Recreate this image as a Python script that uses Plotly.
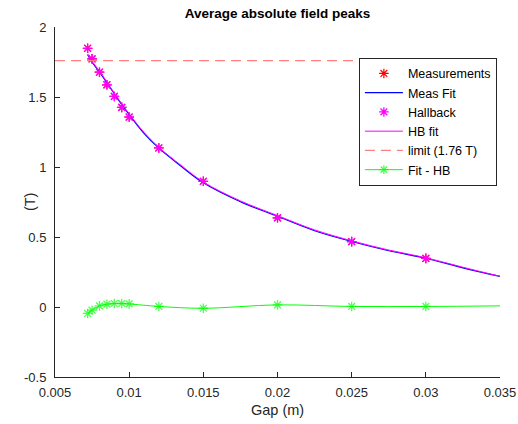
import plotly.graph_objects as go

# ---------------- data ----------------
gap = [0.0072, 0.0075, 0.008, 0.0085, 0.009, 0.0095, 0.01, 0.012, 0.015, 0.02, 0.025, 0.03]
hallback = [1.848, 1.772, 1.677, 1.587, 1.504, 1.426, 1.357, 1.136, 0.898, 0.637, 0.467, 0.347]
measurements = [1.848, 1.772, 1.677, 1.587, 1.504, 1.426, 1.357, 1.136, 0.898, 0.637, 0.467, 0.347]

fit_gap = [0.0072, 0.0075, 0.008, 0.0085, 0.009, 0.0095, 0.01, 0.011, 0.012, 0.0135,
           0.015, 0.0175, 0.02, 0.0225, 0.025, 0.0275, 0.03, 0.0325, 0.035]
meas_fit = [1.802, 1.748, 1.680, 1.601, 1.523, 1.446, 1.374, 1.241, 1.135, 1.006,
            0.887, 0.752, 0.648, 0.545, 0.468, 0.402, 0.348, 0.280, 0.218]
hb_fit = [1.808, 1.754, 1.686, 1.606, 1.528, 1.451, 1.380, 1.247, 1.141, 1.012,
          0.893, 0.758, 0.653, 0.551, 0.473, 0.407, 0.352, 0.284, 0.219]

diff_gap = [0.0072, 0.0075, 0.008, 0.0085, 0.009, 0.0095, 0.01, 0.012, 0.015, 0.02, 0.025, 0.03, 0.035]
fit_minus_hb = [-0.046, -0.023, 0.008, 0.020, 0.025, 0.025, 0.022, 0.004, -0.009, 0.015, 0.004, 0.004, 0.008]

limit_gap = [0.005, 0.035]
limit_value = 1.76

x_ticks = [0.005, 0.01, 0.015, 0.02, 0.025, 0.03, 0.035]
x_labels = ["0.005", "0.01", "0.015", "0.02", "0.025", "0.03", "0.035"]
y_ticks = [-0.5, 0, 0.5, 1, 1.5, 2]
y_labels = ["-0.5", "0", "0.5", "1", "1.5", "2"]

# ---------------- figure ----------------
FONT = "Liberation Sans, Arial, sans-serif"
AX = "#262626"

fig = go.Figure()

fig.add_trace(go.Scatter(
    x=gap, y=measurements, mode="markers", name="Measurements",
    marker=dict(symbol="asterisk-open", size=8, color="#FF0000",
                line=dict(color="#FF0000", width=1.2))))

fig.add_trace(go.Scatter(
    x=fit_gap, y=meas_fit, mode="lines", name="Meas Fit",
    line=dict(color="#0000FF", width=1.2, shape="spline")))

fig.add_trace(go.Scatter(
    x=gap, y=hallback, mode="markers", name="Hallback",
    marker=dict(symbol="asterisk-open", size=8, color="#FF00FF",
                line=dict(color="#FF00FF", width=1.3))))

fig.add_trace(go.Scatter(
    x=fit_gap, y=hb_fit, mode="lines", name="HB fit",
    line=dict(color="#FF00FF", width=1, shape="spline")))

fig.add_trace(go.Scatter(
    x=limit_gap, y=[limit_value] * len(limit_gap), mode="lines", name="limit (1.76 T)",
    line=dict(color="#FF8080", width=1.2, dash="10px,6px")))

marker_sizes = [8] * len(gap) + [0] * (len(diff_gap) - len(gap))
fig.add_trace(go.Scatter(
    x=diff_gap, y=fit_minus_hb, mode="lines+markers", name="Fit - HB",
    line=dict(color="#00FF00", width=1, shape="spline"),
    marker=dict(symbol="asterisk-open", size=marker_sizes, color="#00FF00",
                line=dict(color="#00FF00", width=1.3))))

fig.update_layout(
    width=518, height=424,
    margin=dict(l=55, r=18, t=27, b=47),
    paper_bgcolor="white", plot_bgcolor="white",
    font=dict(family=FONT, size=13, color=AX),
    title=dict(text="<b>Average absolute field peaks</b>", x=0.5, xref="paper",
               y=1 - 13 / 424, yref="container", yanchor="middle",
               font=dict(family=FONT, size=13.5, color="black")),
    showlegend=True,
    legend=dict(x=0.993, xanchor="right", y=0.912, yanchor="top",
                bgcolor="white", bordercolor=AX, borderwidth=1,
                font=dict(family=FONT, size=12.5, color="black"),
                tracegroupgap=0, itemwidth=38),
    xaxis=dict(range=[0.005, 0.035], tickvals=x_ticks, ticktext=x_labels,
               showline=True, linecolor=AX, linewidth=1, ticks="inside",
               ticklen=5, tickcolor=AX, showgrid=False, zeroline=False,
               mirror=False, ticklabelstandoff=3, automargin=False,
               tickfont=dict(family=FONT, size=13, color=AX)),
    yaxis=dict(range=[-0.5, 2], tickvals=y_ticks, ticktext=y_labels,
               showline=True, linecolor=AX, linewidth=1, ticks="inside",
               ticklen=5, tickcolor=AX, showgrid=False, zeroline=False,
               mirror=False, ticklabelstandoff=5, automargin=False,
               tickfont=dict(family=FONT, size=13, color=AX)),
    annotations=[
        dict(text="Gap (m)", xref="paper", yref="paper", x=0.5, y=-0.094,
             xanchor="center", yanchor="middle", showarrow=False,
             font=dict(family=FONT, size=14.5, color=AX)),
        dict(text="(T)", xref="paper", yref="paper", x=-0.056, y=0.5,
             xanchor="center", yanchor="middle", textangle=-90, showarrow=False,
             font=dict(family=FONT, size=14.5, color=AX)),
    ],
)

fig.write_html("out.html",
               config={"displayModeBar": False},
               post_script="document.body.style.margin='0';document.body.style.overflow='hidden';")
